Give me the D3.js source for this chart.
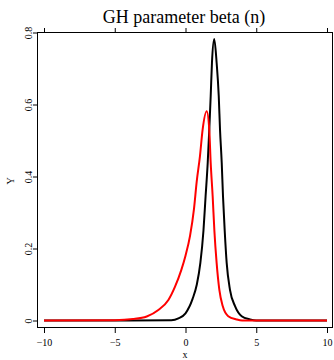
<!DOCTYPE html>
<html>
<head>
<meta charset="utf-8">
<script src="https://cdn.jsdelivr.net/npm/d3@7"></script>
<style>
    html, body { margin: 0; padding: 0; background: #fff; }
    text { font-family: "Liberation Serif", "Times New Roman", serif; fill: #000; }
</style>
</head>
<body>
<div id="chart"></div>
<script>
// Black density curve (x, y)
const blackX = [-10, -4, -1, -0.5, 0, 0.5, 0.8, 1.05, 1.27, 1.42, 1.57, 1.68, 1.78, 1.87, 2.03,
    2.2, 2.35, 2.44, 2.56, 2.65, 2.77, 2.91, 3.14, 3.5, 3.97, 4.56, 5, 10];
const blackY = [0, 0, 0.001, 0.006, 0.02, 0.06, 0.1, 0.16, 0.25, 0.345, 0.438, 0.53, 0.623, 0.716, 0.782,
    0.716, 0.623, 0.53, 0.438, 0.345, 0.25, 0.16, 0.086, 0.04, 0.012, 0.003, 0, 0];

// Red density curve
const redX = [-10, -5, -3.7, -2.74, -1.92, -1.21, -0.74, -0.3, 0, 0.32, 0.6, 0.79, 1.02, 1.21, 1.5,
    1.68, 1.78, 1.92, 2.04, 2.2, 2.39, 2.63, 3.02, 3.6, 4, 10];
const redY = [0, 0.001, 0.004, 0.011, 0.029, 0.057, 0.094, 0.14, 0.18, 0.235, 0.31, 0.385, 0.456, 0.53, 0.581,
    0.53, 0.438, 0.345, 0.25, 0.16, 0.086, 0.04, 0.012, 0.003, 0, 0];

const xTicks = [-10, -5, 0, 5, 10];
const yTicks = [0, 0.2, 0.4, 0.6, 0.8];
const yTickLabels = ["0", "0.2", "0.4", "0.6", "0.8"];

document.addEventListener('DOMContentLoaded', () => {

    const width = 334;
    const height = 360;
    const box = { left: 37, right: 333, top: 32, bottom: 328 };

    const svg = d3.select("#chart").append("svg")
        .attr("width", width)
        .attr("height", height);

    const x = d3.scaleLinear().domain([-10, 10]).range([44, 327]);
    const y = d3.scaleLinear().domain([0, 0.8]).range([320.5, 32.5]);

    // frame
    svg.append("rect")
        .attr("x", box.left + 0.5)
        .attr("y", box.top + 0.5)
        .attr("width", box.right - box.left - 1)
        .attr("height", box.bottom - box.top - 1)
        .attr("fill", "none")
        .attr("stroke", "#000")
        .attr("stroke-width", 1);

    // bottom axis
    const bottom = svg.append("g")
        .attr("transform", `translate(0,${box.bottom})`)
        .call(d3.axisBottom(x).tickValues(xTicks).tickSize(5).tickPadding(6).tickFormat(d3.format("d")));
    bottom.select(".domain").remove();
    bottom.selectAll("text").style("font-family", "Liberation Serif").style("font-size", "10px");

    // top axis, ticks only
    const top = svg.append("g")
        .attr("transform", `translate(0,${box.top})`)
        .call(d3.axisTop(x).tickValues(xTicks).tickSize(4).tickFormat(""));
    top.select(".domain").remove();

    // left axis with rotated labels
    const left = svg.append("g")
        .attr("transform", `translate(${box.left},0)`)
        .call(d3.axisLeft(y).tickValues(yTicks).tickSize(4).tickFormat((d, i) => yTickLabels[i]));
    left.select(".domain").remove();
    left.selectAll("text")
        .attr("x", null)
        .attr("dy", null)
        .attr("transform", "translate(-5,0) rotate(-90)")
        .attr("text-anchor", "middle")
        .style("font-family", "Liberation Serif")
        .style("font-size", "10px");

    // curves
    const line = d3.line()
        .x(d => x(d[0]))
        .y(d => y(d[1]))
        .curve(d3.curveMonotoneX);

    const series = [
        { xs: blackX, ys: blackY, color: "#000000" },
        { xs: redX, ys: redY, color: "#ff0000" }
    ];

    svg.selectAll("path.curve")
        .data(series)
        .enter().append("path")
        .attr("class", "curve")
        .attr("d", s => line(s.xs.map((v, i) => [v, s.ys[i]])))
        .attr("fill", "none")
        .attr("stroke", s => s.color)
        .attr("stroke-width", 2)
        .attr("stroke-linejoin", "round");

    // title and axis labels
    svg.append("text")
        .attr("x", 184)
        .attr("y", 23)
        .attr("text-anchor", "middle")
        .style("font-size", "18px")
        .text("GH parameter beta (n)");

    svg.append("text")
        .attr("x", 185)
        .attr("y", 358)
        .attr("text-anchor", "middle")
        .style("font-size", "10px")
        .text("x");

    svg.append("text")
        .attr("transform", "translate(14,181) rotate(-90)")
        .attr("text-anchor", "middle")
        .style("font-size", "10px")
        .text("Y");
});
</script>
</body>
</html>
